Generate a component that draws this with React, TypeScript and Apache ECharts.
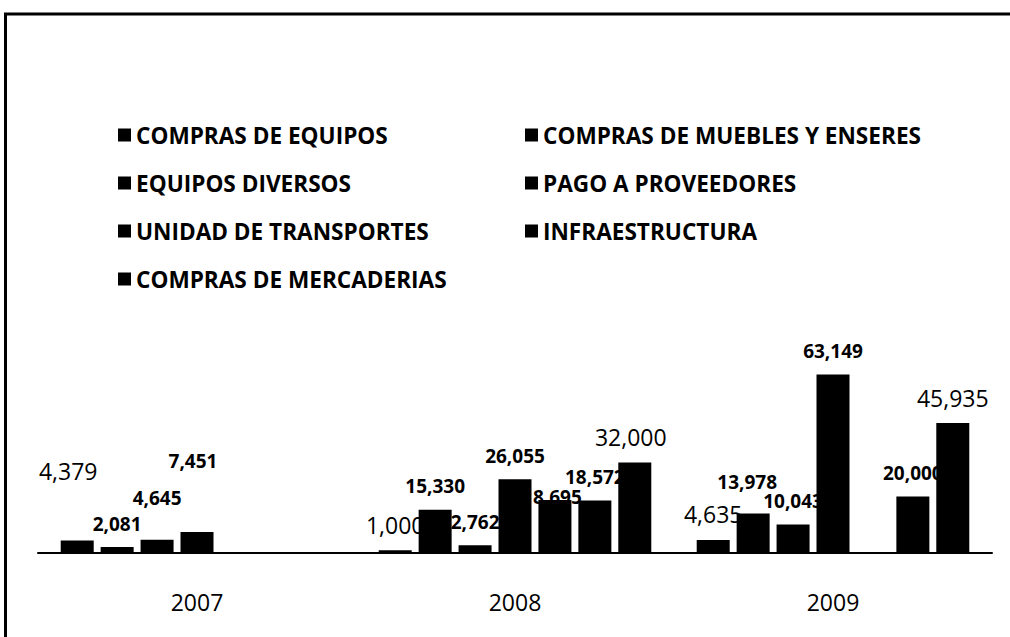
import React, { useEffect, useRef } from "react";
import * as echarts from "echarts";

const years = ["2007", "2008", "2009"];
const seriesNames = [
  "COMPRAS DE EQUIPOS",
  "COMPRAS DE MUEBLES Y ENSERES",
  "EQUIPOS DIVERSOS",
  "PAGO A PROVEEDORES",
  "UNIDAD DE TRANSPORTES",
  "INFRAESTRUCTURA",
  "COMPRAS DE MERCADERIAS",
];
const comprasEquipos = [4379, 1000, 4635];
const comprasMuebles = [2081, 15330, 13978];
const equiposDiversos = [4645, 2762, 10043];
const pagoProveedores = [7451, 26055, 63149];
const unidadTransportes = [null, 18695, null];
const infraestructura = [null, 18572, 20000];
const comprasMercaderias = [null, 32000, 45935];

const seriesValues = [
  comprasEquipos,
  comprasMuebles,
  equiposDiversos,
  pagoProveedores,
  unidadTransportes,
  infraestructura,
  comprasMercaderias,
];

// label nudges (styling): key "series-category" -> [dx, dy]
const labelNudge: Record<string, [number, number]> = {
  "0-0": [-9, -44],
  "2-0": [0, -18],
  "3-0": [-4, -47],
  "1-2": [-6, -8],
  "4-1": [-3, 20],
  "6-1": [-4, 0],
};

const FONT = "'Open Sans', 'Liberation Sans', sans-serif";

export default function App() {
  const ref = useRef<HTMLDivElement>(null);
  useEffect(() => {
    if (!ref.current) return;
    const chart = echarts.init(ref.current, undefined, { renderer: "svg" });
    const series = seriesValues.map((vals, si) => {
      const big = si === 0 || si === 6;
      return {
        name: seriesNames[si],
        type: "bar",
        barWidth: 33,
        barGap: "21%",
        itemStyle: { color: "#000" },
        label: {
          show: true,
          position: "top",
          distance: 14,
          color: "#000",
          fontFamily: FONT,
          fontSize: big ? 23 : 19,
          fontWeight: big ? "normal" : "bold",
          formatter: (p: any) =>
            p.value == null ? "" : Number(p.value).toLocaleString("en-US"),
        },
        data: vals.map((v, ci) => {
          const n = labelNudge[`${si}-${ci}`];
          if (v == null) return null;
          return n ? { value: v, label: { offset: n } } : v;
        }),
      };
    });
    const legendText = {
      fontFamily: FONT,
      fontSize: 22.6,
      fontWeight: "bold",
      color: "#000",
      lineHeight: 28,
    };
    const legendBase = {
      orient: "vertical",
      top: 121,
      padding: 0,
      itemWidth: 13,
      itemHeight: 13,
      itemGap: 20,
      icon: "rect",
      textStyle: legendText,
      selectedMode: false,
    };
    chart.setOption({
      animation: false,
      backgroundColor: "#fff",
      graphic: [
        {
          type: "line",
          shape: { x1: 4, y1: 14, x2: 1010, y2: 14 },
          style: { stroke: "#000", lineWidth: 3 },
        },
        {
          type: "line",
          shape: { x1: 5.5, y1: 13, x2: 5.5, y2: 637 },
          style: { stroke: "#000", lineWidth: 3 },
        },
      ],
      legend: [
        {
          ...legendBase,
          left: 118,
          data: [seriesNames[0], seriesNames[2], seriesNames[4], seriesNames[6]],
        },
        {
          ...legendBase,
          left: 525,
          data: [seriesNames[1], seriesNames[3], seriesNames[5]],
        },
      ],
      grid: { left: 38, right: 18, top: 355, bottom: 84, containLabel: false },
      xAxis: {
        type: "category",
        data: years,
        axisLine: { show: true, lineStyle: { color: "#000", width: 2 } },
        axisTick: { show: false },
        axisLabel: {
          color: "#000",
          fontFamily: FONT,
          fontSize: 23,
          margin: 37,
        },
      },
      yAxis: {
        type: "value",
        min: 0,
        max: 70000,
        show: false,
        splitLine: { show: false },
      },
      series,
    });
    return () => chart.dispose();
  }, []);
  return (
    <div
      ref={ref}
      style={{ position: "fixed", left: 0, top: 0, width: 1010, height: 637, background: "#fff" }}
    />
  );
}
